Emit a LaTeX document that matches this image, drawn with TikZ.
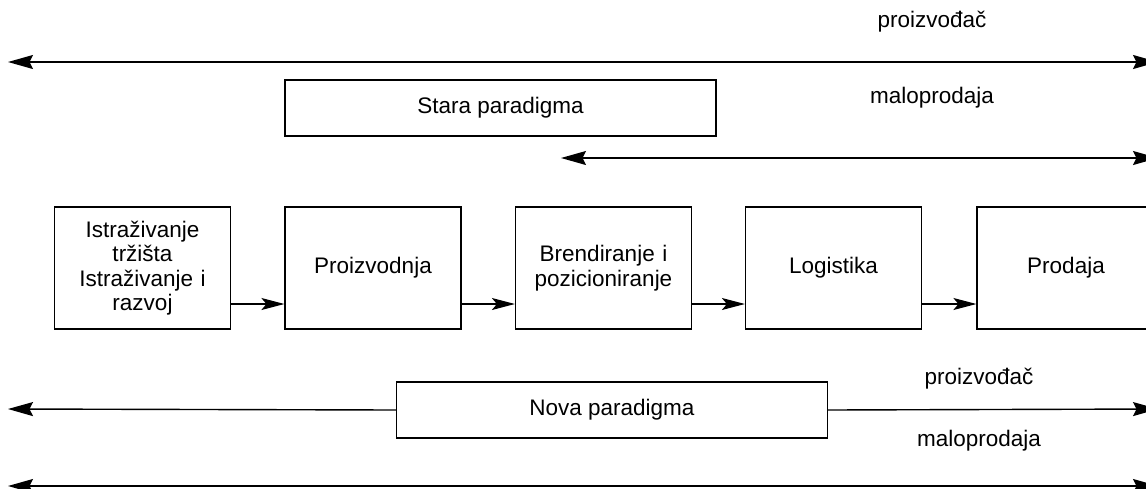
\documentclass[tikz,border=0pt]{standalone}
\usepackage{fontspec}
\setmainfont{Liberation Sans}
\usetikzlibrary{arrows.meta,positioning}

\begin{document}
\begin{tikzpicture}[x=1pt, y=-1pt,
    font=\fontsize{22.5}{24.5}\selectfont,
    box/.style={draw, line width=1.2pt, minimum width=176pt, minimum height=122pt, align=center, text width=166pt},
    para/.style={draw, line width=1.2pt, fill=white, minimum width=431pt, minimum height=56pt},
    span/.style={line width=1.4pt},
    step arrow/.style={line width=1.2pt, -{Stealth[length=23pt,width=12pt,inset=5pt]}},
    both/.style={{Stealth[length=25pt,width=14pt,inset=3.5pt]}-{Stealth[length=25pt,width=14pt,inset=3.5pt]}},
    right tip/.style={-{Stealth[length=25pt,width=14pt,inset=3.5pt]}},
    left tip/.style={{Stealth[length=25pt,width=14pt,inset=3.5pt]}-}]
    \useasboundingbox (0,0) rectangle (1146,488);

    % Value chain
    \node[box] (istr) at (142.5,268) {Istraživanje\\tržišta\\Istraživanje i\\razvoj};
    \node[box] (proiz) at (373,268) {Proizvodnja};
    \node[box] (brend) at (603.5,268) {Brendiranje i\\pozicioniranje};
    \node[box] (logist) at (833.5,268) {Logistika};
    \node[box, minimum width=178pt, text width=168pt] (prod) at (1066,268) {Prodaja};

    % Arrows between steps
    \foreach \a/\b in {istr/proiz, proiz/brend, brend/logist, logist/prod} {
        \draw[step arrow] ([yshift=-36pt]\a.east) -- ([yshift=-36pt]\b.west);
    }

    % Old paradigm
    \node[para] (stara) at (500.5,108) {Stara paradigma};
    \node (proizA) at (932,22) {proizvođač};
    \node (maloA) at (932,98) {maloprodaja};
    \coordinate (la) at (8,62);
    \coordinate (ra) at (1158,62);
    \coordinate (lb) at (561,158);
    \coordinate (rb) at (1158,158);
    \draw[span, both] (la) -- (ra);
    \draw[span, both] (lb) -- (rb);

    % New paradigm
    \node[para] (nova) at (612,410) {Nova paradigma};
    \node (proizB) at (979,379) {proizvođač};
    \node (maloB) at (979,441) {maloprodaja};
    \coordinate (lc) at (8,409);
    \coordinate (rc) at (1158,409);
    \coordinate (ld) at (8,486);
    \coordinate (rd) at (1158,486);
    \draw[span, left tip] (lc) -- (nova.west);
    \draw[span, right tip] (nova.east) -- (rc);
    \draw[span, both] (ld) -- (rd);
\end{tikzpicture}
\end{document}
